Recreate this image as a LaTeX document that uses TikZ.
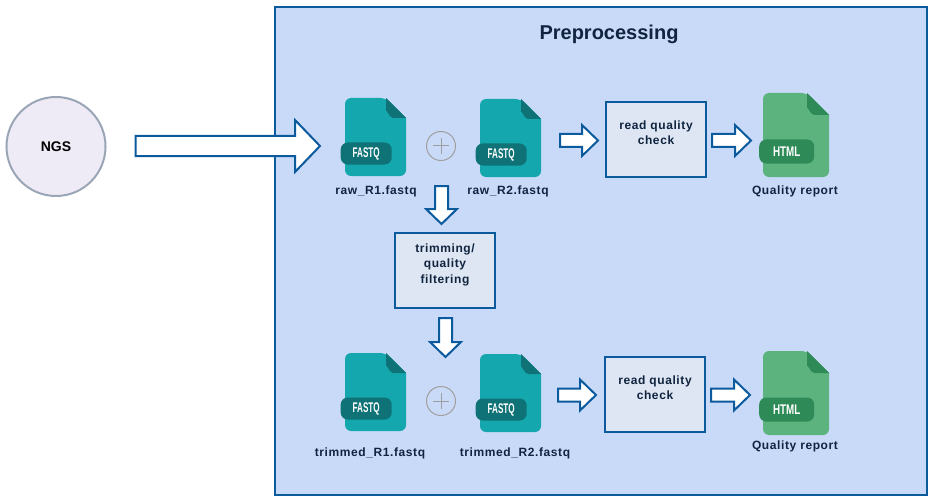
\documentclass[tikz,border=0pt]{standalone}
\usepackage{fontspec}
\setmainfont{Liberation Sans}
\newfontfamily\spacedfont[LetterSpace=5]{Liberation Sans}
\usetikzlibrary{calc,positioning}
\definecolor{panelfill}{HTML}{C9DAF8}
\definecolor{panelline}{HTML}{0B5A9E}
\definecolor{boxfill}{HTML}{DEE6F3}
\definecolor{ngsfill}{HTML}{EFEBF6}
\definecolor{ngsline}{HTML}{9AA5B5}
\definecolor{labelcol}{HTML}{10243F}
\definecolor{tealbody}{HTML}{14A7AD}
\definecolor{tealdark}{HTML}{0E7276}
\definecolor{greenbody}{HTML}{5DB37E}
\definecolor{greendark}{HTML}{2E8B57}
\tikzset{
	panel/.style={draw=panelline,fill=panelfill,line width=2pt,minimum width=652,minimum height=488,inner sep=0pt},
	stepbox/.style={draw=panelline,fill=boxfill,line width=2pt,minimum width=100,minimum height=75,inner sep=0pt,
		text=labelcol,align=center,font=\spacedfont\bfseries\fontsize{12}{15.5}\selectfont},
	flabel/.style={text=labelcol,inner sep=0pt,font=\spacedfont\bfseries\fontsize{12}{15}\selectfont},
	ba head/.store in=\bahead,
	ba half/.store in=\bahalf,
	ba shaft/.store in=\bashaft,
	ba head=16pt, ba half=15.5pt, ba shaft=6.5pt,
	barrow/.style={draw=panelline,fill=white,line width=2pt,miter limit=10,
		to path={let \p1=($(\tikztotarget)!\bahead!(\tikztostart)$) in
			($(\tikztostart)!\bashaft!90:(\tikztotarget)$) --
			($(\p1)!\bashaft!90:(\tikztotarget)$) --
			($(\p1)!\bahalf!90:(\tikztotarget)$) --
			(\tikztotarget) --
			($(\p1)!\bahalf!-90:(\tikztotarget)$) --
			($(\p1)!\bashaft!-90:(\tikztotarget)$) --
			($(\tikztostart)!\bashaft!-90:(\tikztotarget)$) -- cycle}},
	plusmark/.style={circle,draw=gray!75,line width=1pt,minimum size=29,inner sep=0pt,
		prefix after command={\pgfextra{\let\fixname\tikzlastnode}},
		append after command={\pgfextra{\draw[gray!75,line width=1pt]
			($(\fixname.center)+(-8,0)$) -- ($(\fixname.center)+(8,0)$)
			($(\fixname.center)+(0,-8)$) -- ($(\fixname.center)+(0,8)$);}}},
	% body colour, fold colour, width, height, fold size, tag width, tag height, tag text
	doc/.style n args={8}{minimum width=#3,minimum height=#4,inner sep=0pt,outer sep=0pt,
		prefix after command={\pgfextra{\let\fixname\tikzlastnode}},
		append after command={\pgfextra{
			\fill[#1,rounded corners=6pt] (\fixname.north west) -- ($(\fixname.north east)+(-#5,0)$) [sharp corners] --
				($(\fixname.north east)+(0,#5)$) [rounded corners=6pt] -- (\fixname.south east) -- (\fixname.south west) -- cycle;
			\fill[#2] ($(\fixname.north east)+(-#5,0)$) -- ($(\fixname.north east)+(0,#5)$) -- ($(\fixname.north east)+(-#5+7,#5)$)
				to[out=180,in=90] ($(\fixname.north east)+(-#5,#5-7)$) -- cycle;
			\node[fill=#2,rounded corners=7pt,minimum width=#6,minimum height=#7,inner sep=0pt,text=white,
				font=\bfseries\fontsize{14}{14}\selectfont] (\fixname_tag) at ($(\fixname.center)+(-9.3,16.5)$) {#8};
		}}},
	fastq/.style={doc={tealbody}{tealdark}{61}{78}{20}{51}{22}{\scalebox{.58}[1]{FASTQ}}},
	html/.style={doc={greenbody}{greendark}{66}{84}{22}{55}{24}{\scalebox{.7}[1]{HTML}}}
}
\begin{document}
\begin{tikzpicture}[x=1pt,y=-1pt]
   \useasboundingbox (0,0) rectangle (934,500);
   \node[panel] (prep) at (601,251) {};
   \node[text=labelcol,inner sep=0pt,font=\bfseries\fontsize{20}{20}\selectfont] (title) at (609,34.5) {Preprocessing};
   \node[circle,draw=ngsline,fill=ngsfill,line width=2pt,minimum size=99,inner sep=0pt,
      font=\bfseries\fontsize{14}{14}\selectfont] (ngs) at (56,146.5) {NGS};
   % raw reads
   \node[fastq] (rawA) at (375.5,137) {};
   \node[fastq] (rawB) at (510.5,138) {};
   \node[plusmark] (plusA) at (441,146) {};
   \node[stepbox] (checkA) at (656,139.5) {read quality\\check\\[-2pt]};
   \node[html] (htmlA) at (796,135) {};
   \node[flabel] (rawAname) at (376,191) {raw\_R1.fastq};
   \node[flabel] (rawBname) at (508,191) {raw\_R2.fastq};
   \node[flabel] (htmlAname) at (795,191) {Quality report};
   \node[stepbox] (trim) at (445,270.5) {trimming/\\quality\\filtering\\[-1pt]};
   % trimmed reads
   \node[fastq] (trimA) at (375.5,392) {};
   \node[fastq] (trimB) at (510.5,393) {};
   \node[plusmark] (plusB) at (441,401) {};
   \node[stepbox] (checkB) at (655,394.5) {read quality\\check\\[-2pt]};
   \node[html] (htmlB) at (796,393) {};
   \node[flabel] (trimAname) at (370,453) {trimmed\_R1.fastq};
   \node[flabel] (trimBname) at (515,453) {trimmed\_R2.fastq};
   \node[flabel] (htmlBname) at (795,446) {Quality report};
   % block arrows
   \draw[barrow,ba head=25pt,ba half=26pt,ba shaft=10pt] ($(ngs.east)+(29,-.5)$) to ($(rawA.west)+(-25,9)$);
   \draw[barrow] ($(rawB.east)+(19,2.5)$) to ($(checkA.west)+(-7,1)$);
   \draw[barrow] ($(checkA.east)+(5,1)$) to ($(htmlA.west)+(-12,5.5)$);
   \draw[barrow,ba head=15pt] ($(trim.north)+(-3.5,-46)$) to ($(trim.north)+(-3.5,-8)$);
   \draw[barrow,ba head=15pt] ($(trim.south)+(.5,9)$) to ($(trim.south)+(.5,48)$);
   \draw[barrow] ($(trimB.east)+(17,2)$) to ($(checkB.west)+(-8,.5)$);
   \draw[barrow] ($(checkB.east)+(5,.5)$) to ($(htmlB.west)+(-13,2)$);
\end{tikzpicture}
\end{document}
